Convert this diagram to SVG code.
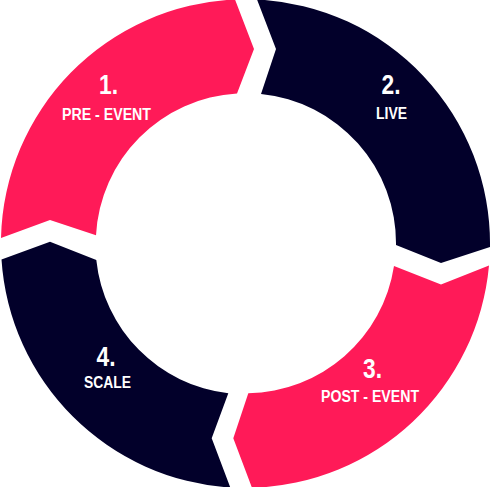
<svg xmlns="http://www.w3.org/2000/svg" width="491" height="487" viewBox="0 0 491 487">
<style>
.pink{fill:#FF1A58}
.navy{fill:#02002A}
.num{font-family:"Liberation Sans",Arial,sans-serif;font-weight:bold;font-size:28px;fill:#fff;text-anchor:middle}
.lbl{font-family:"Liberation Sans",Arial,sans-serif;font-weight:bold;font-size:16px;fill:#fff;text-anchor:middle}
</style>
<rect width="491" height="487" fill="#fff"/>
<g id="connectors"></g>
<g id="seg1">
<path class="pink" d="M1,237.9 A244.5,244.5 0 0 1 235,-0.5 L254,49 L237,93.5 A150,150 0 0 0 96,235.3 L50,220 Z"/>
<text class="num" x="108.5" y="94" textLength="19" lengthAdjust="spacingAndGlyphs">1.</text>
<text class="lbl" x="106.5" y="120" textLength="89" lengthAdjust="spacingAndGlyphs">PRE - EVENT</text>
</g>
<g id="seg2">
<path class="navy" d="M257,-0.5 A244.5,244.5 0 0 1 490,247 L441,263 L396,245 A150,150 0 0 0 261,94 L276,49 Z"/>
<text class="num" x="391" y="94" textLength="19" lengthAdjust="spacingAndGlyphs">2.</text>
<text class="lbl" x="391.5" y="119" textLength="31" lengthAdjust="spacingAndGlyphs">LIVE</text>
</g>
<g id="seg3">
<path class="pink" d="M489,265.5 A244.5,244.5 0 0 1 252,487.8 L233.3,438.3 L248.3,393.3 A150,150 0 0 0 394,266 L441,284.5 Z"/>
<text class="num" x="372.5" y="378" textLength="19" lengthAdjust="spacingAndGlyphs">3.</text>
<text class="lbl" x="370" y="402" textLength="98" lengthAdjust="spacingAndGlyphs">POST - EVENT</text>
</g>
<g id="seg4">
<path class="navy" d="M230.3,487.5 A244.5,244.5 0 0 1 1.5,259.4 L50,241.7 L96.3,260.1 A150,150 0 0 0 228.3,393.3 L211.7,438.3 Z"/>
<text class="num" x="106" y="366" textLength="19" lengthAdjust="spacingAndGlyphs">4.</text>
<text class="lbl" x="107.5" y="388" textLength="47" lengthAdjust="spacingAndGlyphs">SCALE</text>
</g>
</svg>
